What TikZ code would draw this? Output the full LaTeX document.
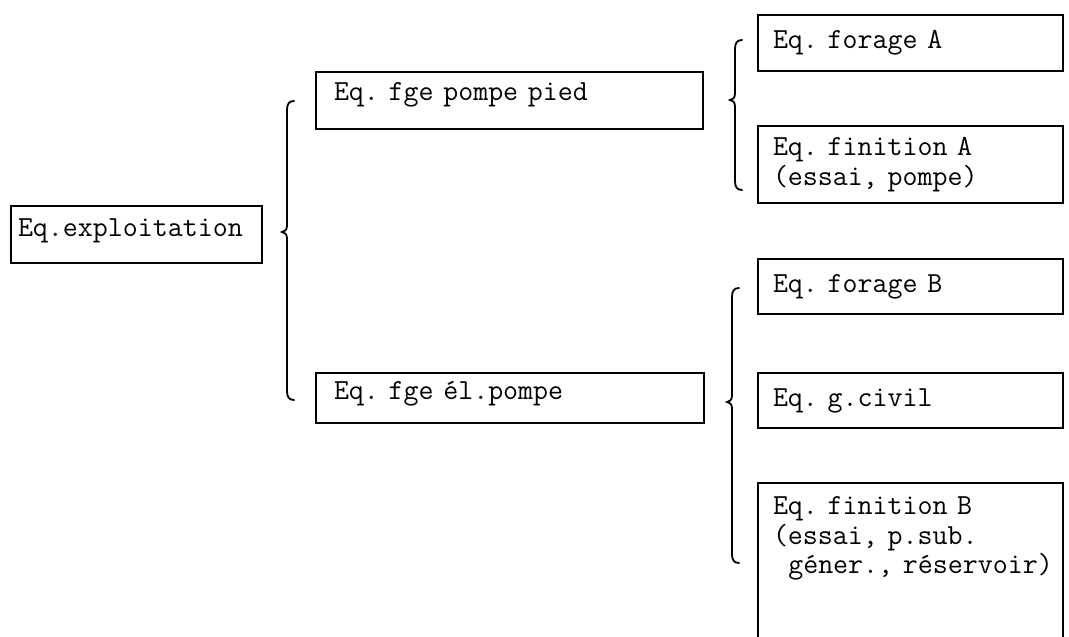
\documentclass[tikz,border=0pt]{standalone}
\usepackage{fontspec}
\usepackage{tikz}
\usetikzlibrary{positioning,calc}
\newcommand{\typew}{\ttfamily\addfontfeature{FakeBold=0.8}\frenchspacing}
\tikzset{
  box/.style={draw,line width=2pt,anchor=north west,align=left,inner ysep=0pt,
    font=\typew\fontsize{29.1}{29.5}\selectfont},
  rbox/.style={box,inner xsep=15pt,text width=275pt},
  brc/.style={line width=1.8pt,line cap=round}
}
% curly brace: x, top, cusp, bottom
\newcommand{\grpbrace}[4]{%
  \draw[brc] (#1+7,#2) .. controls (#1+2,#2) and (#1,#2+3) .. (#1,#2+9)
    -- (#1,#3-6) .. controls (#1,#3-2) and (#1-3,#3) .. (#1-5,#3)
    .. controls (#1-3,#3) and (#1,#3+2) .. (#1,#3+6)
    -- (#1,#4-9) .. controls (#1,#4-3) and (#1+2,#4) .. (#1+7,#4);}

\begin{document}
\begin{tikzpicture}[x=1pt,y=-1pt]
\clip (0,0) rectangle (1069,637);
\node[box,inner xsep=7pt,text width=237pt,minimum height=57pt,text depth=14pt] (expl) at (10,205) {Eq.exploitation};
\node[box,inner xsep=18pt,text width=351pt,minimum height=57pt,text depth=18pt] (pied) at (315,71) {Eq. fge pompe pied};
\node[box,inner xsep=18pt,text width=352pt,minimum height=50pt,text depth=16pt] (elpompe) at (315,372) {Eq. fge él.pompe};
\node[rbox,minimum height=56pt] (forA) at (757,14) {Eq. forage A};
\node[rbox,minimum height=77pt] (finA) at (757,125) {Eq. finition A\\(essai, pompe)};
\node[rbox,minimum height=55pt] (forB) at (757,258) {Eq. forage B};
\node[rbox,minimum height=55pt] (civil) at (757,372) {Eq. g.civil};
\node[rbox,inner ysep=14pt,text depth=160pt] (finB) at (757,482)
  {Eq. finition B\\(essai, p.sub.\\\hspace*{.525em}\mbox{géner., réservoir)}};
% braces
\grpbrace{287}{101}{232}{400}
\grpbrace{735}{40}{100}{190}
\grpbrace{732}{288}{402}{563}
\end{tikzpicture}
\end{document}
